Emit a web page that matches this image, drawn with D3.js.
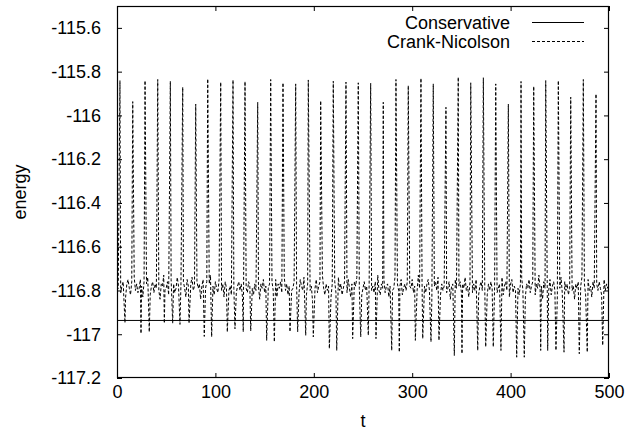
<!DOCTYPE html>
<html><head><meta charset="utf-8">
<script src="https://cdn.jsdelivr.net/npm/d3@7"></script>
<style>body{margin:0;background:#fff}text{font-family:"Liberation Sans",Arial,sans-serif;fill:#000}</style>
</head><body><svg id="c" width="627" height="440"></svg>
<script>
// ---- data ----
const xTicks = [0,100,200,300,400,500];
const yTicks = [-117.2,-117,-116.8,-116.6,-116.4,-116.2,-116,-115.8,-115.6];
const yTickLabels = ["-117.2","-117","-116.8","-116.6","-116.4","-116.2","-116","-115.8","-115.6"];
const seriesNames = ["Conservative","Crank-Nicolson"];
const conservativeT = [0,500];
const conservativeV = [-116.937,-116.937];
// Crank-Nicolson: baseline samples every 1.25 time units
const baseStep = 1.25;
const baseV = [
-116.80,-116.79,-116.77,-116.81,-116.78,-116.76,-116.80,-116.83,-116.77,-116.75,
-116.79,-116.82,-116.76,-116.78,-116.74,-116.80,-116.77,-116.81,-116.79,-116.75,
-116.78,-116.83,-116.76,-116.80,-116.77,-116.74,-116.79,-116.82,-116.78,-116.76,
-116.81,-116.77,-116.79,-116.75,-116.80,-116.84,-116.77,-116.78,-116.73,-116.80,
-116.79,-116.76,-116.82,-116.78,-116.75,-116.80,-116.77,-116.81,-116.79,-116.74,
-116.78,-116.82,-116.77,-116.80,-116.76,-116.79,-116.83,-116.75,-116.78,-116.81,
-116.77,-116.74,-116.80,-116.78,-116.82,-116.76,-116.79,-116.77,-116.84,-116.78,
-116.75,-116.80,-116.79,-116.76,-116.81,-116.77,-116.73,-116.80,-116.78,-116.82,
-116.76,-116.79,-116.81,-116.75,-116.78,-116.80,-116.77,-116.83,-116.76,-116.79,
-116.74,-116.80,-116.78,-116.82,-116.77,-116.79,-116.75,-116.81,-116.78,-116.76,
-116.80,-116.77,-116.83,-116.78,-116.75,-116.79,-116.81,-116.76,-116.78,-116.74,
-116.79,-116.82,-116.77,-116.80,-116.76,-116.78,-116.84,-116.77,-116.79,-116.75,
-116.81,-116.78,-116.73,-116.79,-116.77,-116.82,-116.76,-116.80,-116.78,-116.75,
-116.83,-116.77,-116.79,-116.76,-116.81,-116.78,-116.74,-116.80,-116.77,-116.82,
-116.78,-116.75,-116.80,-116.79,-116.76,-116.83,-116.77,-116.79,-116.81,-116.75,
-116.78,-116.80,-116.74,-116.79,-116.82,-116.77,-116.76,-116.80,-116.78,-116.85,
-116.77,-116.79,-116.75,-116.81,-116.78,-116.76,-116.80,-116.73,-116.79,-116.82,
-116.77,-116.80,-116.78,-116.75,-116.83,-116.77,-116.79,-116.76,-116.81,-116.78,
-116.74,-116.80,-116.77,-116.82,-116.79,-116.76,-116.78,-116.81,-116.75,-116.79,
-116.83,-116.77,-116.80,-116.76,-116.78,-116.74,-116.81,-116.79,-116.77,-116.82,
-116.79,-116.76,-116.80,-116.78,-116.84,-116.77,-116.75,-116.80,-116.78,-116.81,
-116.76,-116.79,-116.73,-116.80,-116.82,-116.77,-116.79,-116.75,-116.81,-116.78,
-116.77,-116.83,-116.78,-116.76,-116.80,-116.79,-116.74,-116.81,-116.77,-116.80,
-116.78,-116.75,-116.82,-116.79,-116.77,-116.80,-116.76,-116.84,-116.78,-116.79,
-116.75,-116.81,-116.78,-116.77,-116.80,-116.73,-116.79,-116.82,-116.76,-116.80,
-116.78,-116.81,-116.77,-116.75,-116.80,-116.79,-116.83,-116.77,-116.78,-116.76,
-116.80,-116.74,-116.79,-116.82,-116.77,-116.80,-116.78,-116.75,-116.81,-116.79,
-116.76,-116.84,-116.78,-116.77,-116.80,-116.75,-116.79,-116.82,-116.78,-116.76,
-116.81,-116.77,-116.79,-116.74,-116.80,-116.78,-116.83,-116.76,-116.79,-116.81,
-116.77,-116.80,-116.75,-116.79,-116.82,-116.78,-116.76,-116.80,-116.73,-116.79,
-116.78,-116.82,-116.77,-116.80,-116.76,-116.79,-116.84,-116.78,-116.75,-116.81,
-116.79,-116.77,-116.80,-116.74,-116.82,-116.78,-116.76,-116.80,-116.79,-116.83,
-116.77,-116.75,-116.81,-116.78,-116.80,-116.76,-116.79,-116.82,-116.77,-116.74,
-116.80,-116.78,-116.83,-116.77,-116.79,-116.75,-116.81,-116.78,-116.76,-116.80,
-116.82,-116.77,-116.79,-116.73,-116.80,-116.78,-116.84,-116.76,-116.79,-116.81,
-116.77,-116.80,-116.75,-116.82,-116.78,-116.76,-116.80,-116.79,-116.83,-116.77,
-116.79,-116.74,-116.81,-116.78,-116.76,-116.80,-116.77,-116.82,-116.79,-116.75,
-116.80,-116.78,-116.84,-116.77,-116.79,-116.76,-116.81,-116.78,-116.74,-116.80,
-116.77,-116.82,-116.79,-116.75,-116.80,-116.78,-116.83,-116.76,-116.79,-116.81,
-116.77,-116.80,-116.76,-116.79,-116.82,-116.78,-116.75,-116.80,-116.77,-116.79,
-116.78];
const peakT = [3.0,16.0,28.5,41.4,54.2,66.8,80.0,92.2,105.4,117.9,130.1,143.0,156.2,168.7,181.6,194.4,207.0,219.8,232.7,245.2,257.8,270.6,283.5,296.0,308.9,321.4,334.3,346.8,359.5,372.3,384.9,397.7,410.6,423.5,435.7,448.5,461.1,473.9,486.8];
const peakV = [-115.841,-115.937,-115.841,-115.836,-115.844,-115.871,-115.948,-115.833,-115.848,-115.838,-115.845,-115.940,-115.836,-115.851,-115.856,-115.838,-115.933,-115.844,-115.848,-115.851,-115.853,-115.940,-115.836,-115.864,-115.830,-115.856,-115.963,-115.825,-115.851,-115.828,-115.856,-115.948,-115.845,-115.867,-115.841,-115.841,-115.917,-115.836,-115.902];
const dipT = [8.1,24.4,32.8,48.1,56.6,64.0,73.2,88.7,96.2,112.1,119.9,128.3,135.9,152.1,159.9,175.8,183.6,191.8,199.5,215.8,223.3,239.5,247.7,255.4,263.2,279.2,286.9,303.2,310.7,319.1,327.2,342.8,350.6,366.6,374.7,382.4,390.2,406.2,413.9,430.6,437.7,446.1,454.3,469.8,477.9,493.6];
const dipV = [-116.948,-116.997,-116.990,-116.950,-116.950,-116.955,-116.950,-117.010,-117.012,-116.990,-116.975,-116.989,-116.985,-117.028,-117.035,-116.989,-116.989,-117.005,-117.012,-117.066,-117.074,-117.020,-117.012,-117.005,-117.020,-117.074,-117.082,-117.028,-117.020,-117.035,-117.028,-117.097,-117.089,-117.074,-117.058,-117.058,-117.074,-117.105,-117.105,-117.074,-117.074,-117.074,-117.082,-117.089,-117.082,-117.051];

// ---- build table ----
const spikes = peakT.map((t,i)=>({t,v:peakV[i]})).concat(dipT.map((t,i)=>({t,v:dipV[i]})));
const base = baseV.map((v,i)=>({t:i*baseStep,v})).filter(p=>!spikes.some(s=>Math.abs(s.t-p.t)<0.6));
const cn = base.concat(spikes).sort((a,b)=>a.t-b.t);
const cons = conservativeT.map((t,i)=>({t,v:conservativeV[i]}));

// ---- layout ----
const L=117,R=609,T=6,B=378, FS="18px";
const svg = d3.select("#c");
const x = d3.scaleLinear([0,500],[L,R]);
const y = d3.scaleLinear([-117.2,-115.5],[B,T]);

svg.append("defs").append("clipPath").attr("id","clip").append("rect")
  .attr("x",L).attr("y",T).attr("width",R-L).attr("height",B-T);

const line = d3.line().x(d=>x(d.t)).y(d=>y(d.v));
const plot = svg.append("g").attr("clip-path","url(#clip)");
plot.append("path").datum(cons).attr("d",line).attr("fill","none").attr("stroke","#000").attr("stroke-width",1);
plot.append("path").datum(cn).attr("d",line).attr("fill","none").attr("stroke","#000").attr("stroke-width",1).attr("stroke-dasharray","3,2");

function styleAxis(g, labels){
  g.select(".domain").remove();
  g.selectAll("line").attr("stroke","#000");
  g.selectAll("text").style("font-size",FS).attr("fill","#000");
  if(!labels) g.selectAll("text").remove();
}
svg.append("g").attr("transform",`translate(0,${B})`)
  .call(d3.axisBottom(x).tickValues(xTicks).tickSize(-5).tickSizeOuter(0).tickPadding(7).tickFormat(d3.format("d")))
  .call(g=>styleAxis(g,true));
svg.append("g").attr("transform",`translate(0,${T})`)
  .call(d3.axisTop(x).tickValues(xTicks).tickSize(-5).tickSizeOuter(0))
  .call(g=>styleAxis(g,false));
svg.append("g").attr("transform",`translate(${L},0)`)
  .call(d3.axisLeft(y).tickValues(yTicks).tickSize(-5).tickSizeOuter(0).tickPadding(16).tickFormat((d,i)=>yTickLabels[i]))
  .call(g=>styleAxis(g,true));
svg.append("g").attr("transform",`translate(${R},0)`)
  .call(d3.axisRight(y).tickValues(yTicks).tickSize(-5).tickSizeOuter(0))
  .call(g=>styleAxis(g,false));

svg.append("rect").attr("x",L+0.5).attr("y",T+0.5).attr("width",R-L-1).attr("height",B-T-1)
  .attr("fill","none").attr("stroke","#000").attr("stroke-width",1.2);

svg.append("text").attr("x",363).attr("y",427).attr("text-anchor","middle").style("font-size",FS).text("t");
svg.append("text").attr("transform","translate(26,192) rotate(-90)").attr("text-anchor","middle").style("font-size",FS).text("energy");

// legend
const leg = svg.append("g");
const legY=[22.5,41.5], legDash=[null,"3,2"];
seriesNames.forEach((n,i)=>{
  leg.append("text").attr("x",510).attr("y",legY[i]).attr("dy","0.36em").attr("text-anchor","end").style("font-size",FS).text(n);
  leg.append("line").attr("x1",532).attr("x2",584).attr("y1",legY[i]).attr("y2",legY[i])
    .attr("stroke","#000").attr("stroke-width",1).attr("stroke-dasharray",legDash[i]);
});
</script></body></html>
